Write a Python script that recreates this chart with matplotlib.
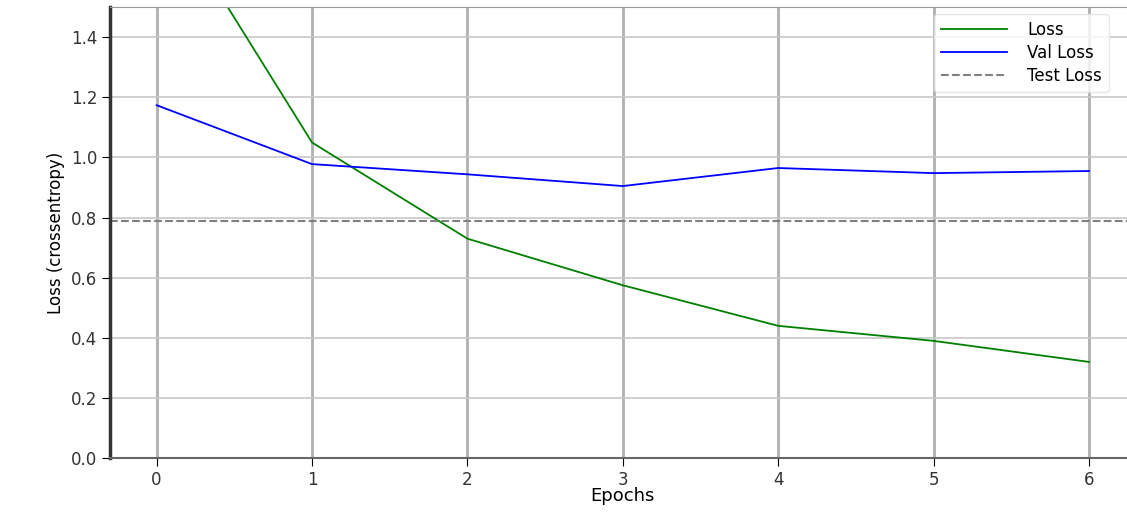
import matplotlib
matplotlib.use("Agg")
import matplotlib.pyplot as plt

# Valores
epocas = [0, 1, 2, 3, 4, 5, 6]
loss = [1.88, 1.05, 0.73, 0.575, 0.44, 0.39, 0.32]
val_loss = [1.174, 0.978, 0.944, 0.905, 0.965, 0.948, 0.955]
test_loss = 0.79

fig = plt.figure(figsize=(11.27, 5.13), dpi=100)
ax = fig.add_axes([0.0976, 0.107, 0.91, 0.879])

ax.plot(epocas, loss, color="green", linewidth=1.3, label="Loss")
ax.plot(epocas, val_loss, color="blue", linewidth=1.3, label="Val Loss")
ax.axhline(test_loss, color="gray", linestyle="--", linewidth=1.5, label="Test Loss")

ax.set_xlim(-0.3, 6.3)
ax.set_ylim(0, 1.5)
ax.set_yticks([0.0, 0.2, 0.4, 0.6, 0.8, 1.0, 1.2, 1.4])
ax.set_xticks(epocas)

# Grade: verticais mais fortes que as horizontais
ax.xaxis.grid(True, color="#b0b0b0", linewidth=2)
ax.yaxis.grid(True, color="#c8c8c8", linewidth=1.2)
ax.set_axisbelow(True)

ax.spines["left"].set_color("#333333")
ax.spines["left"].set_linewidth(2.5)
ax.spines["bottom"].set_color("#666666")
ax.spines["bottom"].set_linewidth(1.5)
ax.spines["right"].set_visible(False)
ax.spines["top"].set_color("#999999")

ax.tick_params(labelsize=12, length=6, pad=3)
for t in ax.get_xticklabels() + ax.get_yticklabels():
    t.set_color("#333333")
ax.set_xlabel("Epochs", fontsize=13, labelpad=-1)
ax.set_ylabel("Loss (crossentropy)", fontsize=12, labelpad=4)

fig.legend(loc="upper right", bbox_to_anchor=(1117 / 1127, 507 / 513),
           fontsize=12, frameon=True, framealpha=0.8, edgecolor="#e0e0e0",
           handlelength=4, handletextpad=1.2, labelspacing=0.3)

fig.savefig("out.png", dpi=100)
